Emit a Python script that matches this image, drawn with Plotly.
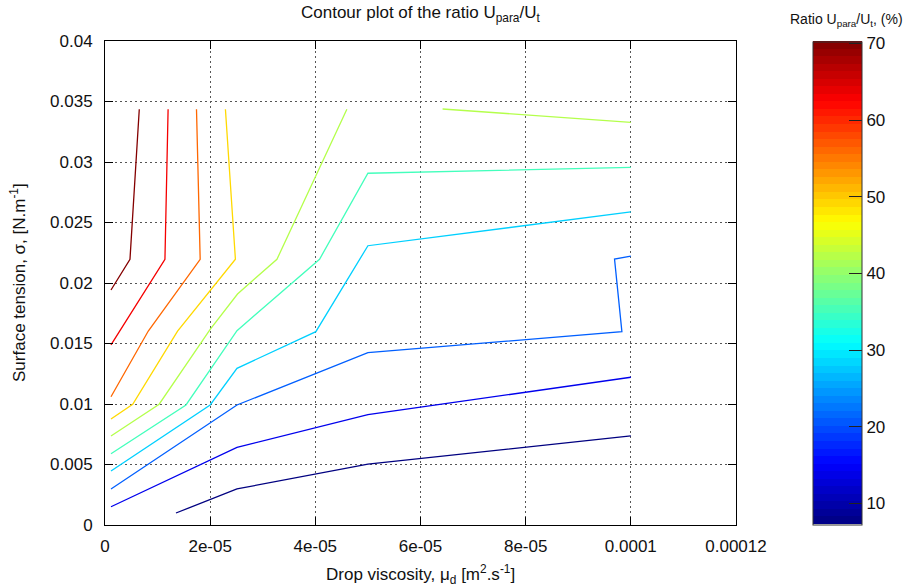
import plotly.graph_objects as go
from plotly.colors import sample_colorscale

# Contour levels of the ratio U_para/U_t (%)
levels = [7, 14, 21, 28, 35, 42, 49, 56, 63, 70]

# Polylines of each contour level: drop viscosity (m2/s) vs surface tension (N/m)
x_07 = [1.35e-5, 2.51e-5, 5.0e-5, 1.0e-4]
y_07 = [0.00099, 0.00298, 0.00504, 0.00736]

x_14 = [1.14e-6, 2.51e-5, 5.0e-5, 1.0e-4]
y_14 = [0.00151, 0.00642, 0.00912, 0.01221]

x_21 = [1.14e-6, 2.51e-5, 5.0e-5, 9.83e-5, 9.69e-5, 1.0e-4]
y_21 = [0.00298, 0.00992, 0.01424, 0.01598, 0.02198, 0.02223]

x_28 = [1.14e-6, 2.0e-5, 2.51e-5, 4.01e-5, 5.0e-5, 1.0e-4]
y_28 = [0.00446, 0.00992, 0.01295, 0.01598, 0.02308, 0.02587]

x_35 = [1.14e-6, 1.54e-5, 2.51e-5, 4.08e-5, 5.0e-5, 1.0e-4]
y_35 = [0.00589, 0.00992, 0.01606, 0.02196, 0.02907, 0.02956]

x_42 = [1.14e-6, 1.03e-5, 2.0e-5, 2.52e-5, 3.27e-5, 4.60e-5]
y_42 = [0.00736, 0.00998, 0.01617, 0.01909, 0.02196, 0.03436]
x_42b = [6.42e-5, 1.0e-4]
y_42b = [0.03438, 0.03328]

x_49 = [1.14e-6, 5.27e-6, 1.38e-5, 2.48e-5, 2.29e-5]
y_49 = [0.00876, 0.00998, 0.01603, 0.02196, 0.03436]

x_56 = [1.14e-6, 8.23e-6, 1.81e-5, 1.74e-5]
y_56 = [0.0106, 0.01603, 0.02196, 0.03436]

x_63 = [1.14e-6, 1.14e-5, 1.20e-5]
y_63 = [0.01488, 0.02196, 0.03436]

x_70 = [1.14e-6, 4.75e-6, 6.52e-6]
y_70 = [0.01942, 0.02196, 0.03436]

segments = [
    (7, x_07, y_07), (14, x_14, y_14), (21, x_21, y_21), (28, x_28, y_28),
    (35, x_35, y_35), (42, x_42, y_42), (42, x_42b, y_42b), (49, x_49, y_49),
    (56, x_56, y_56), (63, x_63, y_63), (70, x_70, y_70),
]

# Colour range of the ratio
c_min, c_max = 7.26, 70.25

x_ticks = [0, 2e-5, 4e-5, 6e-5, 8e-5, 1e-4, 1.2e-4]
x_tick_text = ["0", "2e-05", "4e-05", "6e-05", "8e-05", "0.0001", "0.00012"]
y_ticks = [0, 0.005, 0.01, 0.015, 0.02, 0.025, 0.03, 0.035, 0.04]
y_tick_text = ["0", "0.005", "0.01", "0.015", "0.02", "0.025", "0.03", "0.035", "0.04"]
cb_ticks = [10, 20, 30, 40, 50, 60, 70]

# Classic jet palette, quantised into bands for the colour box
jet = [
    [0.0, "rgb(0,0,128)"], [0.125, "rgb(0,0,255)"], [0.375, "rgb(0,255,255)"],
    [0.625, "rgb(255,255,0)"], [0.875, "rgb(255,0,0)"], [1.0, "rgb(128,0,0)"],
]
n_bands = 64
band_colors = sample_colorscale(jet, [(i + 0.5) / n_bands for i in range(n_bands)])
banded = []
for i, c in enumerate(band_colors):
    banded.append([i / n_bands, c])
    banded.append([(i + 1) / n_bands, c])

FONT = "Liberation Sans, Arial, sans-serif"

fig = go.Figure()
for lev, xs, ys in segments:
    frac = min(max((lev - c_min) / (c_max - c_min), 0.0), 1.0)
    col = sample_colorscale(jet, [frac])[0]
    fig.add_trace(go.Scatter(
        x=xs, y=ys, mode="lines", line=dict(color=col, width=1.3),
        showlegend=False, hoverinfo="skip",
    ))

# Colour box
fig.add_trace(go.Scatter(
    x=[None], y=[None], mode="markers", showlegend=False, hoverinfo="skip",
    marker=dict(
        color=[c_min, c_max], cmin=c_min, cmax=c_max, colorscale=banded,
        showscale=True,
        colorbar=dict(
            x=(813 - 105) / 631, xanchor="left", xref="paper",
            y=0.5, yanchor="middle", yref="paper",
            len=483, lenmode="pixels", thickness=49, thicknessmode="pixels",
            xpad=0, ypad=0, outlinewidth=1, outlinecolor="#333",
            tickvals=cb_ticks, ticks="inside", ticklen=13, tickcolor="#222",
            tickfont=dict(family=FONT, size=17, color="#111"),
        ),
    ),
))

axis_common = dict(
    showline=True, linecolor="black", linewidth=1, mirror="ticks",
    ticks="inside", ticklen=8, tickcolor="black",
    showgrid=True, gridcolor="#555", griddash="2px,3px", gridwidth=1,
    zeroline=False, tickfont=dict(family=FONT, size=17, color="#111"),
)
fig.update_xaxes(range=[0, 1.2e-4], tickvals=x_ticks, ticktext=x_tick_text,
                 ticklabelstandoff=6, **axis_common)
fig.update_yaxes(range=[0, 0.04], tickvals=y_ticks, ticktext=y_tick_text,
                 ticklabelstandoff=8, **axis_common)

fig.update_layout(
    width=905, height=586,
    margin=dict(l=105, r=169, t=41, b=61, autoexpand=False),
    plot_bgcolor="white", paper_bgcolor="white",
    font=dict(family=FONT, color="#111"),
    annotations=[
        dict(text="Contour plot of the ratio U<sub>para</sub>/U<sub>t</sub>",
             xref="paper", yref="paper", x=0.5, y=(525 - 14) / 484,
             xanchor="center", yanchor="middle", showarrow=False,
             font=dict(family=FONT, size=17)),
        dict(text="Ratio U<sub>para</sub>/U<sub>t</sub>, (%)",
             xref="paper", yref="paper", x=(846 - 105) / 631, y=(525 - 20) / 484,
             xanchor="center", yanchor="middle", showarrow=False,
             font=dict(family=FONT, size=14)),
        dict(text="Drop viscosity, \u03bc<sub>d</sub> [m<sup>2</sup>.s<sup>-1</sup>]",
             xref="paper", yref="paper", x=0.5, y=(525 - 574) / 484,
             xanchor="center", yanchor="middle", showarrow=False,
             font=dict(family=FONT, size=17)),
        dict(text="Surface tension, \u03c3, [N.m<sup>-1</sup>]",
             xref="paper", yref="paper", x=(18 - 105) / 631, y=0.5,
             xanchor="center", yanchor="middle", showarrow=False, textangle=-90,
             font=dict(family=FONT, size=17)),
    ],
)

fig.write_html("out.html")
